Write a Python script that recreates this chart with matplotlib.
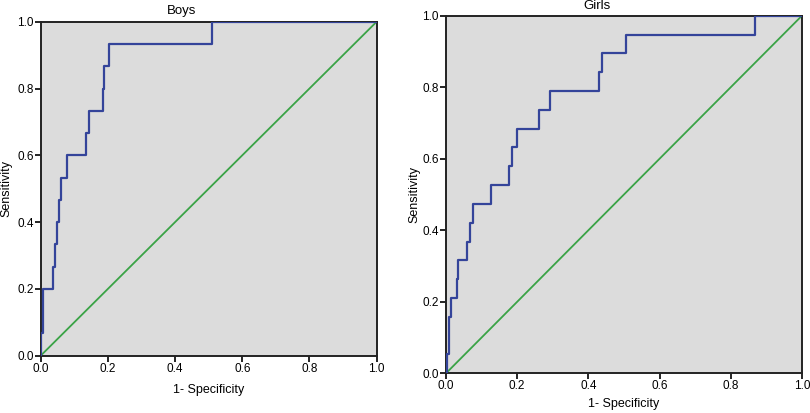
import matplotlib
matplotlib.use("Agg")
import matplotlib.pyplot as plt

plt.rcParams['font.family'] = ['Liberation Sans', 'DejaVu Sans']

# ROC coordinates (1 - specificity, sensitivity)
boys_fpr = [0, 0, 0.008, 0.038, 0.043, 0.050, 0.054, 0.060, 0.079, 0.134,
            0.145, 0.186, 0.189, 0.203, 0.509, 1.0]
boys_tpr = [0, 0.067, 0.200, 0.267, 0.333, 0.400, 0.467, 0.533, 0.600, 0.667,
            0.733, 0.800, 0.867, 0.933, 1.0, 1.0]

girls_fpr = [0, 0.002, 0.009, 0.015, 0.030, 0.035, 0.060, 0.068, 0.076, 0.126,
             0.177, 0.186, 0.199, 0.261, 0.292, 0.429, 0.437, 0.506, 0.868, 1.0]
girls_tpr = [0, 0.053, 0.158, 0.211, 0.263, 0.316, 0.368, 0.421, 0.474, 0.526,
             0.579, 0.632, 0.684, 0.737, 0.789, 0.842, 0.895, 0.947, 1.0, 1.0]

ref_line = [0, 1]
ticks = [0.0, 0.2, 0.4, 0.6, 0.8, 1.0]

fig = plt.figure(figsize=(8.1, 4.13), dpi=100)
ax1 = fig.add_axes([0.0502, 0.1387, 0.4148, 0.8087])
ax2 = fig.add_axes([0.5506, 0.0961, 0.4395, 0.8660])

# axes, data, title, title x/y in pixels, xlabel y / ylabel x in axes coords
panels = [(ax1, boys_fpr, boys_tpr, "Boys", 182, 11, -0.085, -0.085),
          (ax2, girls_fpr, girls_tpr, "Girls", 597, 6, -0.069, -0.073)]

for ax, fpr, tpr, title, tx, ty, xl_y, yl_x in panels:
    ax.set_facecolor('#dcdcdc')
    ax.plot(ref_line, ref_line, color='#3aa346', lw=1.3, zorder=2)
    ax.plot(fpr, tpr, drawstyle='steps-post', color='#34449a', lw=1.6, zorder=3)
    ax.set_xlim(0, 1)
    ax.set_ylim(0, 1)
    ax.set_xticks(ticks)
    ax.set_yticks(ticks)
    ax.set_xticklabels([f"{t:.1f}" for t in ticks])
    ax.set_yticklabels([f"{t:.1f}" for t in ticks])
    ax.tick_params(direction='out', length=4, width=1.2, labelsize=8.5, pad=1,
                   colors='black')
    for s in ax.spines.values():
        s.set_linewidth(1.4)
        s.set_color('#222222')
    ax.set_xlabel("1- Specificity", fontsize=9)
    ax.set_ylabel("Sensitivity", fontsize=9)
    ax.xaxis.set_label_coords(0.5, xl_y)
    ax.yaxis.set_label_coords(yl_x, 0.5)
    fig.text(tx / 810, 1 - ty / 413, title, ha='center', va='center',
             fontsize=9.5)

fig.savefig("out.png", dpi=100, facecolor='white')
